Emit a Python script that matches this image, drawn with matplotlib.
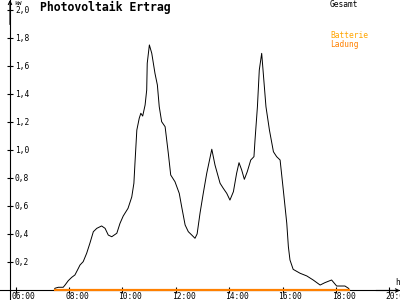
import matplotlib
matplotlib.use("Agg")
import matplotlib.pyplot as plt
from matplotlib import transforms

# ---- data ----
hours = [7.44, 7.47, 7.60, 7.78, 7.85, 7.97, 8.10, 8.22, 8.35, 8.41, 8.53, 8.66, 8.78,
         8.91, 9.04, 9.22, 9.35, 9.47, 9.60, 9.79, 9.91, 10.03, 10.21, 10.35, 10.43,
         10.47, 10.54, 10.63, 10.69, 10.76, 10.85, 10.91, 10.93, 11.01, 11.10, 11.22,
         11.31, 11.38, 11.47, 11.60, 11.72, 11.81, 11.97, 12.13, 12.22, 12.35, 12.47,
         12.60, 12.72, 12.80, 12.91, 13.03, 13.16, 13.35, 13.47, 13.66, 13.78, 13.91,
         14.03, 14.16, 14.28, 14.37, 14.47, 14.57, 14.68, 14.81, 14.93, 14.97, 15.06,
         15.13, 15.22, 15.28, 15.38, 15.51, 15.66, 15.78, 15.91, 16.03, 16.16, 16.22,
         16.28, 16.40, 16.66, 16.91, 17.15, 17.41, 17.59, 17.84, 18.03, 18.34, 18.47,
         18.53]
gesamt_kw = [0.000, 0.016, 0.023, 0.023, 0.039, 0.070, 0.094, 0.111, 0.159, 0.182, 0.206,
             0.266, 0.337, 0.420, 0.444, 0.461, 0.444, 0.396, 0.384, 0.409, 0.480, 0.532,
             0.587, 0.668, 0.766, 0.909, 1.146, 1.230, 1.266, 1.246, 1.325, 1.432, 1.623,
             1.754, 1.694, 1.551, 1.468, 1.313, 1.206, 1.170, 0.980, 0.825, 0.777, 0.694,
             0.599, 0.468, 0.420, 0.396, 0.373, 0.404, 0.554, 0.694, 0.837, 1.009, 0.896,
             0.766, 0.730, 0.694, 0.646, 0.706, 0.837, 0.913, 0.861, 0.794, 0.849, 0.932,
             0.956, 1.075, 1.313, 1.575, 1.694, 1.551, 1.313, 1.146, 0.991, 0.956, 0.932,
             0.718, 0.480, 0.313, 0.218, 0.151, 0.123, 0.104, 0.075, 0.039, 0.056, 0.075,
             0.032, 0.032, 0.016, 0.000]
batterie_hours = [7.44, 18.53]
batterie_kw = [0.0, 0.0]

x_ticks = [6, 8, 10, 12, 14, 16, 18, 20]
x_tick_labels = ["06:00", "08:00", "10:00", "12:00", "14:00", "16:00", "18:00", "20:00"]
y_ticks = [0.2, 0.4, 0.6, 0.8, 1.0, 1.2, 1.4, 1.6, 1.8, 2.0]
y_tick_labels = ["0,2", "0,4", "0,6", "0,8", "1,0", "1,2", "1,4", "1,6", "1,8", "2,0"]

title = "Photovoltaik Ertrag"
legend_labels = ["Gesamt", "Batterie", "Ladung"]

# ---- figure ----
plt.rcParams['font.family'] = ['DejaVu Sans Mono']
fig = plt.figure(figsize=(4, 3), dpi=100)
ax = fig.add_axes([0, 0, 1, 1])
ax.set_xlim(5.4116, 20.404)
ax.set_ylim(-0.0679, 2.075)
ax.patch.set_alpha(0)

yaxis_x = 5.786
for s in ["top", "right"]:
    ax.spines[s].set_visible(False)
ax.spines["left"].set_position(("data", yaxis_x))
ax.spines["bottom"].set_position(("data", 0.0))
ax.spines["left"].set_linewidth(0.8)
ax.spines["bottom"].set_linewidth(0.8)

ax.set_xticks(x_ticks)
ax.set_xticklabels([])
ax.set_yticks(y_ticks)
ax.set_yticklabels([])
ax.tick_params(axis="both", direction="inout", length=4.5, width=0.8, color="black")

fs_small = 5.7
off_y = transforms.offset_copy(ax.transData, fig, x=5, y=0, units="dots")
for v, lab in zip(y_ticks, y_tick_labels):
    ax.text(yaxis_x, v, lab, transform=off_y, ha="left", va="center",
            fontsize=fs_small, color="black")
off_x = transforms.offset_copy(ax.transData, fig, x=-4, y=-6, units="dots")
for v, lab in zip(x_ticks, x_tick_labels):
    ax.text(v, 0, lab, transform=off_x, ha="left", va="center",
            fontsize=fs_small, color="black")

# axis arrows
ax.annotate("", xy=(yaxis_x, 2.075), xytext=(yaxis_x, 1.9),
            arrowprops=dict(arrowstyle="->", lw=0.8, color="black",
                            shrinkA=0, shrinkB=0, mutation_scale=6))
ax.annotate("", xy=(20.404, 0), xytext=(19.5, 0),
            arrowprops=dict(arrowstyle="->", lw=0.8, color="black",
                            shrinkA=0, shrinkB=0, mutation_scale=6))

# units
ax.text(yaxis_x, 2.075, "kW", transform=transforms.offset_copy(ax.transData, fig, x=4, y=-4, units="dots"),
        ha="left", va="center", fontsize=4.5, color="black")
ax.text(20.22, 0.0, "h", transform=transforms.offset_copy(ax.transData, fig, x=0, y=8, units="dots"),
        ha="left", va="center", fontsize=fs_small, color="black")

# data
ax.plot(hours, gesamt_kw, color="black", lw=0.7, antialiased=True, zorder=2)
ax.plot(batterie_hours, batterie_kw, color="#FF8000", lw=1.6, solid_capstyle="butt",
        zorder=4)

# title and legend
fig.text(40 / 400, 1 - 7 / 300, title, ha="left", va="center", fontsize=8.3,
         fontweight="bold", color="black")
fig.text(330 / 400, 1 - 4.5 / 300, legend_labels[0], ha="left", va="center",
         fontsize=fs_small, color="black")
fig.text(330 / 400, 1 - 35.5 / 300, legend_labels[1], ha="left", va="center",
         fontsize=fs_small, color="#FFA500")
fig.text(330 / 400, 1 - 44 / 300, legend_labels[2], ha="left", va="center",
         fontsize=fs_small, color="#FF8000")

fig.savefig("out.png", dpi=100)
